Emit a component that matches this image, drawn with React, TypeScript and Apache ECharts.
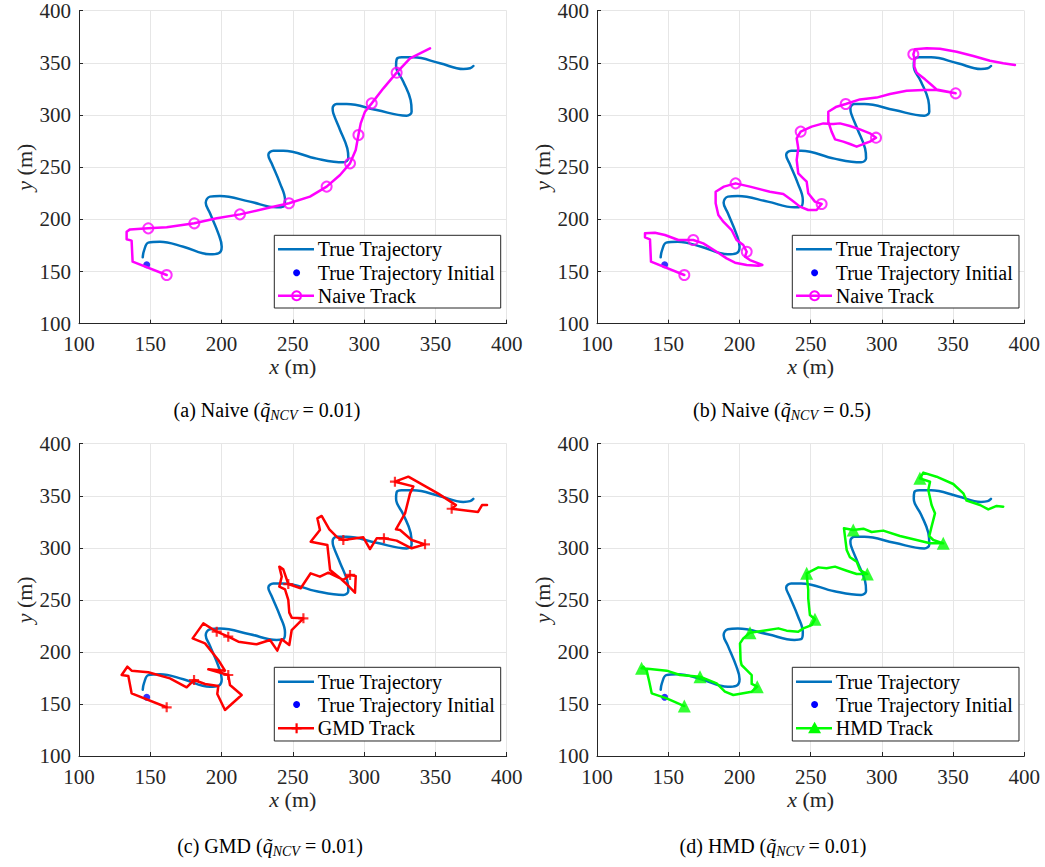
import React, { useEffect, useRef } from "react";
import * as echarts from "echarts";

// ---------------- DATA ----------------
const axisMin = 100;
const axisMax = 400;
const axisStep = 50;

const trueTrajectory: number[][] = [
  [144.7, 163.6], [145.6, 170.0], [148.6, 177.7], [156.8, 178.6], [173.2, 173.8], [191.9, 166.5],
  [197.7, 167.4], [200.1, 173.8], [197.7, 186.6], [191.9, 205.8], [188.9, 216.0], [191.9, 221.8],
  [198.9, 222.4], [219.9, 217.0], [238.6, 211.5], [243.3, 212.2], [244.5, 218.6], [241.0, 234.5],
  [235.1, 253.7], [232.8, 261.7], [236.3, 265.8], [243.3, 265.8], [266.7, 258.2], [285.4, 254.7],
  [288.9, 258.5], [288.2, 268.1], [283.1, 285.7], [278.4, 301.6], [277.9, 306.4], [280.7, 310.6],
  [287.7, 310.6], [308.8, 304.8], [329.8, 299.4], [333.3, 303.2], [332.6, 314.4], [327.5, 332.0],
  [322.4, 347.0], [322.8, 353.4], [326.3, 355.3], [334.5, 355.3], [353.2, 349.6], [369.6, 344.1],
  [374.3, 344.8], [376.6, 347.0],
];

const trueInitial: number[][] = [[147.5, 156.5]];

// [x, y, marker flag]
const naiveTrackA: number[][] = [
  [161.5, 146.7, 1], [137.6, 159.5, 0], [136.9, 179.6, 0], [133.4, 180.9, 0], [133.4, 188.2, 0],
  [135.8, 190.4, 0], [148.6, 191.4, 1], [161.5, 192.4, 0], [180.9, 196.2, 1], [196.6, 201.0, 0],
  [212.9, 204.8, 1], [231.6, 210.6, 0], [247.3, 215.4, 1], [262.0, 221.8, 0], [273.7, 231.4, 1],
  [283.1, 242.5, 0], [290.1, 253.7, 1], [294.1, 266.5, 0], [296.0, 280.9, 1], [297.6, 292.0, 0],
  [300.6, 303.2, 0], [305.3, 311.2, 1], [313.5, 325.6, 0], [322.8, 340.6, 1], [332.2, 354.4, 0],
  [346.2, 364.0, 0],
];

const naiveTrackB: number[][] = [
  [161.3, 146.7, 1], [137.9, 159.5, 0], [137.2, 180.9, 0], [133.7, 182.8, 0], [133.7, 186.6, 0],
  [140.7, 187.2, 0], [147.7, 185.0, 0], [157.1, 180.2, 0], [167.6, 180.2, 1], [174.6, 177.0, 0],
  [184.0, 169.0, 0], [191.0, 162.6, 0], [196.9, 158.5, 0], [205.1, 156.3, 0], [213.3, 155.6, 0],
  [216.1, 156.3, 0], [207.4, 161.0, 0], [203.9, 164.2, 0], [205.1, 169.0, 1], [202.7, 175.4, 0],
  [198.0, 180.2, 0], [194.5, 189.8, 0], [188.7, 197.8, 0], [185.2, 204.2, 0], [183.3, 215.4, 0],
  [183.3, 226.5, 0], [189.1, 231.4, 0], [197.3, 234.5, 1], [207.4, 231.4, 0], [221.4, 226.5, 0],
  [230.8, 224.3, 0], [236.6, 218.6, 0], [242.5, 212.2, 0], [248.3, 209.0, 0], [254.2, 209.0, 0],
  [257.7, 214.7, 1], [253.0, 217.0, 0], [248.3, 225.0, 0], [247.2, 236.1, 0], [244.8, 239.3, 0],
  [241.3, 244.1, 0], [240.2, 256.9, 0], [241.3, 268.1, 0], [240.2, 277.7, 0], [243.0, 284.1, 1],
  [250.7, 288.9, 0], [258.9, 292.0, 0], [265.9, 291.4, 0], [270.6, 292.0, 0], [277.6, 289.5, 0],
  [284.6, 286.3, 0], [291.6, 282.5, 0], [295.9, 278.3, 1], [291.6, 274.5, 0], [286.9, 272.2, 0],
  [282.3, 269.7, 0], [277.6, 272.2, 0], [272.9, 274.5, 0], [267.1, 276.7, 0], [264.7, 284.1, 0],
  [262.4, 293.6, 0], [262.4, 303.2, 0], [268.2, 308.0, 0], [274.6, 310.6, 1], [284.6, 315.0, 0],
  [296.3, 316.7, 0], [305.7, 320.2, 0], [317.4, 323.3, 0], [329.1, 324.0, 0], [338.4, 324.0, 0],
  [351.8, 320.8, 1], [338.4, 324.6, 0], [334.9, 328.8, 0], [330.3, 334.2, 0], [324.4, 340.6, 0],
  [322.8, 346.4, 0], [322.8, 354.4, 0], [322.1, 358.2, 1], [323.2, 363.0, 0], [331.4, 363.9, 0],
  [340.8, 363.6, 0], [352.5, 360.7, 0], [364.2, 356.6, 0], [375.9, 352.1, 0], [385.2, 349.6, 0],
  [393.4, 348.0, 0],
];

const gmdTrack: number[][] = [
  [161.5, 146.8, 1], [136.9, 160.2, 0], [134.6, 176.9, 0], [129.9, 177.8, 0], [133.9, 185.8, 0],
  [136.9, 182.0, 0], [148.6, 180.4, 0], [163.8, 174.6, 0], [175.5, 166.0, 0], [180.7, 173.0, 1],
  [188.4, 169.2, 0], [197.7, 167.2, 0], [197.0, 159.6, 0], [202.4, 144.2, 0], [214.1, 158.6, 0],
  [205.9, 168.2, 0], [204.7, 177.8, 1], [190.7, 183.3, 0], [202.4, 182.0, 0], [197.7, 192.2, 0],
  [188.4, 208.2, 0], [179.7, 213.0, 0], [187.2, 227.4, 0], [196.6, 219.4, 1], [204.7, 214.6, 1],
  [211.8, 209.8, 0], [224.6, 207.3, 0], [234.0, 211.4, 0], [239.1, 201.2, 0], [242.2, 212.1, 0],
  [247.5, 206.6, 0], [249.2, 221.0, 0], [257.4, 232.3, 1], [249.2, 232.9, 0], [247.5, 237.7, 0],
  [246.8, 249.9, 0], [244.5, 260.1, 0], [240.5, 262.7, 0], [242.2, 272.3, 0], [240.5, 281.9, 0],
  [243.3, 279.3, 0], [246.8, 265.2, 1], [255.5, 261.1, 0], [262.5, 275.5, 0], [269.0, 272.3, 0],
  [274.9, 276.1, 0], [285.4, 269.1, 0], [290.1, 273.9, 1], [294.1, 272.9, 0], [293.6, 256.9, 0],
  [287.7, 265.2, 0], [281.9, 272.3, 0], [276.1, 278.7, 0], [275.1, 291.5, 0], [274.2, 302.7, 0],
  [262.5, 305.9, 0], [269.0, 317.1, 0], [267.2, 328.3, 0], [270.2, 330.6, 0], [275.6, 317.7, 0],
  [281.2, 310.1, 0], [285.4, 307.5, 1], [299.4, 310.1, 0], [304.1, 298.8, 0], [308.8, 309.1, 0],
  [313.9, 309.1, 1], [322.8, 306.9, 0], [333.3, 299.5, 0], [342.7, 303.3, 1], [333.3, 307.5, 0],
  [325.2, 317.1, 0], [322.3, 317.7, 0], [328.7, 333.1, 0], [332.2, 352.3, 0], [334.5, 359.0, 0],
  [321.6, 363.5, 1], [331.0, 368.3, 0], [352.0, 352.0, 0], [364.4, 341.0, 0], [361.4, 337.5, 1],
  [379.9, 334.4, 0], [382.7, 341.1, 0], [386.2, 341.1, 0],
];

const hmdTrack: number[][] = [
  [161.3, 148.0, 1], [148.9, 155.4, 0], [138.4, 160.2, 0], [136.7, 171.4, 0], [134.9, 182.0, 0],
  [132.5, 185.8, 0], [131.3, 184.2, 1], [137.2, 183.6, 0], [148.9, 182.0, 0], [158.3, 177.8, 0],
  [172.3, 176.2, 1], [184.0, 169.8, 0], [189.8, 161.8, 0], [195.7, 158.6, 0], [208.6, 161.8, 0],
  [212.5, 166.6, 1], [208.6, 169.2, 0], [208.6, 177.8, 0], [205.1, 182.6, 0], [201.5, 187.4, 0],
  [200.8, 192.2, 0], [200.4, 208.2, 0], [202.7, 213.0, 0], [207.4, 218.5, 1], [216.8, 220.4, 0],
  [227.3, 222.6, 0], [233.1, 220.4, 0], [241.3, 219.4, 0], [244.8, 222.6, 0], [250.7, 225.8, 0],
  [253.0, 231.3, 1], [249.5, 235.4, 0], [249.0, 241.9, 0], [248.3, 251.5, 0], [248.3, 259.5, 0],
  [247.6, 269.1, 0], [247.2, 275.5, 1], [255.4, 281.2, 0], [261.2, 280.3, 0], [267.1, 281.9, 0],
  [275.3, 278.0, 0], [282.3, 274.8, 0], [289.8, 274.8, 1], [284.6, 278.7, 0], [282.3, 286.7, 0],
  [277.6, 290.9, 0], [275.3, 297.9, 0], [274.1, 310.7, 0], [273.4, 318.7, 0], [279.9, 317.1, 1],
  [287.0, 318.4, 0], [292.8, 315.2, 0], [301.0, 316.5, 0], [312.7, 311.3, 0], [324.4, 307.5, 0],
  [333.8, 304.3, 0], [343.1, 304.3, 1], [336.1, 307.5, 0], [333.3, 311.3, 0], [334.9, 320.3, 0],
  [337.3, 333.1, 0], [334.9, 341.1, 0], [332.6, 355.5, 0], [333.8, 363.5, 0], [326.7, 366.7, 1],
  [329.1, 372.2, 0], [338.4, 368.3, 0], [350.1, 361.3, 0], [357.2, 352.3, 0], [359.5, 345.3, 0],
  [368.9, 341.1, 0], [374.7, 336.9, 0], [380.6, 340.2, 0], [385.2, 339.5, 0],
];

const trackNames = ["Naive Track", "Naive Track", "GMD Track", "HMD Track"];
const captionLabels = ["(a) Naive (", "(b) Naive (", "(c) GMD (", "(d) HMD ("];
const captionValues = [" = 0.01)", " = 0.5)", " = 0.01)", " = 0.01)"];
const trueName = "True Trajectory";
const initialName = "True Trajectory Initial";

// ---------------- STYLE / LAYOUT ----------------
const FONT = "'Liberation Serif', 'Times New Roman', serif";
const AXIS_COLOR = "#262626";
const GRID_COLOR = "#e6e6e6";
const TRUE_COLOR = "#0072BD";
const INIT_COLOR = "#0000FF";
const trackColors = ["#FF00FF", "#FF00FF", "#FF0000", "#00FF00"];
const markerKinds = ["circle", "circle", "plus", "triangle"];
const PLUS_PATH = "path://M3.9,0H6.1V3.9H10V6.1H6.1V10H3.9V6.1H0V3.9H3.9Z";

const grids = [
  { left: 79, top: 10.7, width: 427.7, height: 313 },
  { left: 597, top: 10.7, width: 427.3, height: 313 },
  { left: 79, top: 443.7, width: 427.7, height: 312.3 },
  { left: 597, top: 443.7, width: 427.3, height: 312.3 },
];
const legendBoxes = [
  { x: 274.3, y: 235.3, w: 226.4, h: 72.7 },
  { x: 792.3, y: 235.3, w: 226.7, h: 72.7 },
  { x: 274.3, y: 667.3, w: 226.4, h: 73.7 },
  { x: 792.3, y: 667.3, w: 226.7, h: 73.7 },
];
const captionPos = [
  { x: 267, y: 410 },
  { x: 782, y: 410 },
  { x: 270, y: 846 },
  { x: 773, y: 846 },
];

function measure(text: string, size: number, italic: boolean): number {
  const c = document.createElement("canvas").getContext("2d");
  if (!c) return text.length * size * 0.5;
  c.font = `${italic ? "italic " : ""}${size}px ${FONT}`;
  return c.measureText(text).width;
}

function markerSeriesProps(kind: string, color: string) {
  if (kind === "circle") {
    return {
      symbol: "circle",
      symbolSize: 10,
      itemStyle: { color: "rgba(0,0,0,0)", borderColor: color, borderWidth: 2 },
    };
  }
  if (kind === "plus") {
    return { symbol: PLUS_PATH, symbolSize: 10, itemStyle: { color } };
  }
  return { symbol: "triangle", symbolSize: 13, itemStyle: { color } };
}

const LZ = 100;

function legendMarker(kind: string, color: string, cx: number, cy: number): any[] {
  if (kind === "circle") {
    return [{
      type: "circle",
      z: LZ + 1,
      shape: { cx, cy, r: 4.5 },
      style: { fill: "none", stroke: color, lineWidth: 2 },
    }];
  }
  if (kind === "plus") {
    return [
      { type: "line", z: LZ + 1, shape: { x1: cx - 5, y1: cy, x2: cx + 5, y2: cy }, style: { stroke: color, lineWidth: 2.2 } },
      { type: "line", z: LZ + 1, shape: { x1: cx, y1: cy - 5, x2: cx, y2: cy + 5 }, style: { stroke: color, lineWidth: 2.2 } },
    ];
  }
  return [{
    type: "polygon",
    z: LZ + 1,
    shape: { points: [[cx, cy - 6.5], [cx + 6.5, cy + 5], [cx - 6.5, cy + 5]] },
    style: { fill: color },
  }];
}

function buildOption() {
  const xAxis: any[] = [];
  const yAxis: any[] = [];
  const series: any[] = [];
  const graphic: any[] = [];
  const tracks = [naiveTrackA, naiveTrackB, gmdTrack, hmdTrack];

  const nameStyle = {
    fontFamily: FONT,
    fontSize: 22,
    color: AXIS_COLOR,
    rich: { it: { fontFamily: FONT, fontSize: 22, fontStyle: "italic", color: AXIS_COLOR } },
  };
  const commonAxis = {
    type: "value",
    min: axisMin,
    max: axisMax,
    interval: axisStep,
    axisLine: { show: true, onZero: false, lineStyle: { color: AXIS_COLOR, width: 1 } },
    axisTick: { show: true, inside: true, length: 4, lineStyle: { color: AXIS_COLOR, width: 1 } },
    splitLine: { show: true, lineStyle: { color: GRID_COLOR, width: 1 } },
    nameLocation: "middle",
    nameTextStyle: nameStyle,
  };

  grids.forEach((g, i) => {
    xAxis.push({
      ...commonAxis,
      gridIndex: i,
      name: "{it|x} (m)",
      nameGap: 32,
      axisLabel: { fontFamily: FONT, fontSize: 21, color: AXIS_COLOR, margin: 10 },
    });
    yAxis.push({
      ...commonAxis,
      gridIndex: i,
      name: "{it|y} (m)",
      nameGap: 42,
      axisLabel: { fontFamily: FONT, fontSize: 21, color: AXIS_COLOR, margin: 8 },
    });

    const track = tracks[i];
    const color = trackColors[i];

    series.push({
      type: "line",
      name: trueName,
      xAxisIndex: i,
      yAxisIndex: i,
      data: trueTrajectory,
      symbol: "none",
      smooth: 0.4,
      lineStyle: { color: TRUE_COLOR, width: 2.5, cap: "round", join: "round" },
      z: 2,
    });
    series.push({
      type: "scatter",
      name: initialName,
      xAxisIndex: i,
      yAxisIndex: i,
      data: trueInitial,
      symbol: "circle",
      symbolSize: 7,
      itemStyle: { color: INIT_COLOR },
      z: 3,
    });
    series.push({
      type: "line",
      name: trackNames[i],
      xAxisIndex: i,
      yAxisIndex: i,
      data: track.map((p) => [p[0], p[1]]),
      symbol: "none",
      lineStyle: { color, width: 2.5, cap: "round", join: "round" },
      z: 4,
    });
    series.push({
      type: "scatter",
      name: trackNames[i] + " markers",
      xAxisIndex: i,
      yAxisIndex: i,
      data: track.filter((p) => p[2] === 1).map((p) => [p[0], p[1]]),
      ...markerSeriesProps(markerKinds[i], color),
      z: 5,
    });

    // Legend box
    const b = legendBoxes[i];
    const rowY = b.h > 73 ? [14.4, 37.2, 61] : [14, 37.4, 60.4];
    const textStyle = { fontFamily: FONT, fontSize: 20, fill: "#000", verticalAlign: "middle", align: "left" };
    graphic.push({
      type: "group",
      x: b.x,
      y: b.y,
      z: LZ,
      children: [
        { type: "rect", z: LZ, shape: { x: 0, y: 0, width: b.w, height: b.h }, style: { fill: "#fff", stroke: AXIS_COLOR, lineWidth: 1 } },
        { type: "line", z: LZ + 1, shape: { x1: 3.7, y1: rowY[0], x2: 39.7, y2: rowY[0] }, style: { stroke: TRUE_COLOR, lineWidth: 2.5 } },
        { type: "text", z: LZ + 1, x: 43.4, y: rowY[0], style: { ...textStyle, text: trueName } },
        { type: "circle", z: LZ + 1, shape: { cx: 22.3, cy: rowY[1], r: 3.5 }, style: { fill: INIT_COLOR } },
        { type: "text", z: LZ + 1, x: 43.4, y: rowY[1], style: { ...textStyle, text: initialName } },
        { type: "line", z: LZ + 1, shape: { x1: 3.7, y1: rowY[2], x2: 39.7, y2: rowY[2] }, style: { stroke: color, lineWidth: 2.5 } },
        ...legendMarker(markerKinds[i], color, 22.3, rowY[2]),
        { type: "text", z: LZ + 1, x: 43.4, y: rowY[2], style: { ...textStyle, text: trackNames[i] } },
      ],
    });

    // Caption
    const cp = captionPos[i];
    const pieces = [
      { t: captionLabels[i], s: 20, it: false, dy: 0 },
      { t: "q\u0303", s: 20, it: true, dy: 0 },
      { t: "NCV", s: 14, it: true, dy: 5 },
      { t: captionValues[i], s: 20, it: false, dy: 0 },
    ];
    const widths = pieces.map((p) => measure(p.t, p.s, p.it));
    const total = widths.reduce((a, v) => a + v, 0);
    let cx = cp.x - total / 2;
    pieces.forEach((p, k) => {
      graphic.push({
        type: "text",
        x: cx,
        y: cp.y + p.dy,
        z: LZ,
        style: {
          text: p.t,
          fontFamily: FONT,
          fontSize: p.s,
          fontStyle: p.it ? "italic" : "normal",
          fill: "#000",
          verticalAlign: "middle",
          align: "left",
        },
      });
      cx += widths[k];
    });
  });

  return {
    animation: false,
    backgroundColor: "#ffffff",
    grid: grids.map((g) => ({ ...g, containLabel: false })),
    xAxis,
    yAxis,
    series,
    graphic,
  };
}

export default function App() {
  const ref = useRef<HTMLDivElement>(null);
  useEffect(() => {
    if (!ref.current) return;
    const chart = echarts.init(ref.current, null, { renderer: "svg" });
    chart.setOption(buildOption() as any);
    return () => chart.dispose();
  }, []);
  return (
    <div
      ref={ref}
      style={{ position: "absolute", left: 0, top: 0, width: 1045, height: 867, background: "#fff" }}
    />
  );
}
